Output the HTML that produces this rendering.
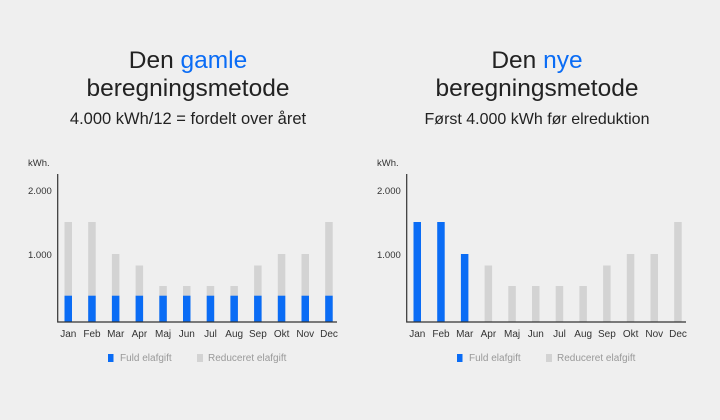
<!DOCTYPE html>
<html><head><meta charset="utf-8"><style>
html,body{margin:0;padding:0;background:#efefef;}
svg{display:block;font-family:"Liberation Sans",sans-serif;}
</style></head><body>
<svg width="720" height="420" viewBox="0 0 720 420">
<rect width="720" height="420" fill="#efefef"/>
<g fill="#222" text-anchor="middle">
<text x="188" y="68" font-size="24.5">Den <tspan fill="#0a6cf5">gamle</tspan></text>
<text x="188" y="96" font-size="24.5">beregningsmetode</text>
<text x="188" y="124" font-size="16.5">4.000 kWh/12 = fordelt over året</text>
<text x="537" y="68" font-size="24.5">Den <tspan fill="#0a6cf5">nye</tspan></text>
<text x="537" y="96" font-size="24.5">beregningsmetode</text>
<text x="537" y="124" font-size="16">Først 4.000 kWh før elreduktion</text>
</g>
<g font-size="9.5" fill="#333">
<text x="28" y="166">kWh.</text>
<text x="28" y="194">2.000</text>
<text x="28" y="258">1.000</text>
<text x="377" y="166">kWh.</text>
<text x="377" y="194">2.000</text>
<text x="377" y="258">1.000</text>
</g>
<g>
<g fill="#d3d3d3">
<rect x="64.5" y="222" width="7.5" height="100"/>
<rect x="88.2" y="222" width="7.5" height="100"/>
<rect x="111.9" y="254" width="7.5" height="68"/>
<rect x="135.6" y="265.5" width="7.5" height="56.5"/>
<rect x="159.3" y="286" width="7.5" height="36"/>
<rect x="183" y="286" width="7.5" height="36"/>
<rect x="206.7" y="286" width="7.5" height="36"/>
<rect x="230.4" y="286" width="7.5" height="36"/>
<rect x="254.1" y="265.5" width="7.5" height="56.5"/>
<rect x="277.8" y="254" width="7.5" height="68"/>
<rect x="301.5" y="254" width="7.5" height="68"/>
<rect x="325.2" y="222" width="7.5" height="100"/>
</g>
<g fill="#0a6cf5">
<rect x="64.5" y="295.7" width="7.5" height="26.3"/>
<rect x="88.2" y="295.7" width="7.5" height="26.3"/>
<rect x="111.9" y="295.7" width="7.5" height="26.3"/>
<rect x="135.6" y="295.7" width="7.5" height="26.3"/>
<rect x="159.3" y="295.7" width="7.5" height="26.3"/>
<rect x="183" y="295.7" width="7.5" height="26.3"/>
<rect x="206.7" y="295.7" width="7.5" height="26.3"/>
<rect x="230.4" y="295.7" width="7.5" height="26.3"/>
<rect x="254.1" y="295.7" width="7.5" height="26.3"/>
<rect x="277.8" y="295.7" width="7.5" height="26.3"/>
<rect x="301.5" y="295.7" width="7.5" height="26.3"/>
<rect x="325.2" y="295.7" width="7.5" height="26.3"/>
</g>
<path d="M57.7 174 V322 H337" stroke="#333" stroke-width="1.2" fill="none"/>
</g>
<g transform="translate(349,0)">
<g fill="#0a6cf5">
<rect x="64.5" y="222" width="7.5" height="100"/>
<rect x="88.2" y="222" width="7.5" height="100"/>
<rect x="111.9" y="254" width="7.5" height="68"/>
</g>
<g fill="#d3d3d3">
<rect x="135.6" y="265.5" width="7.5" height="56.5"/>
<rect x="159.3" y="286" width="7.5" height="36"/>
<rect x="183" y="286" width="7.5" height="36"/>
<rect x="206.7" y="286" width="7.5" height="36"/>
<rect x="230.4" y="286" width="7.5" height="36"/>
<rect x="254.1" y="265.5" width="7.5" height="56.5"/>
<rect x="277.8" y="254" width="7.5" height="68"/>
<rect x="301.5" y="254" width="7.5" height="68"/>
<rect x="325.2" y="222" width="7.5" height="100"/>
</g>
<path d="M57.7 174 V322 H337" stroke="#333" stroke-width="1.2" fill="none"/>
</g>
<g font-size="10" fill="#333" text-anchor="middle">
<g>
<text x="68.3" y="337">Jan</text><text x="92" y="337">Feb</text><text x="115.7" y="337">Mar</text><text x="139.4" y="337">Apr</text><text x="163.1" y="337">Maj</text><text x="186.8" y="337">Jun</text><text x="210.5" y="337">Jul</text><text x="234.2" y="337">Aug</text><text x="257.9" y="337">Sep</text><text x="281.6" y="337">Okt</text><text x="305.3" y="337">Nov</text><text x="329" y="337">Dec</text>
</g>
<g transform="translate(349,0)">
<text x="68.3" y="337">Jan</text><text x="92" y="337">Feb</text><text x="115.7" y="337">Mar</text><text x="139.4" y="337">Apr</text><text x="163.1" y="337">Maj</text><text x="186.8" y="337">Jun</text><text x="210.5" y="337">Jul</text><text x="234.2" y="337">Aug</text><text x="257.9" y="337">Sep</text><text x="281.6" y="337">Okt</text><text x="305.3" y="337">Nov</text><text x="329" y="337">Dec</text>
</g>
</g>
<g font-size="10" fill="#999">
<rect x="108" y="354" width="5.5" height="8" fill="#0a6cf5"/>
<text x="120" y="361">Fuld elafgift</text>
<rect x="197" y="354" width="6" height="8" fill="#d3d3d3"/>
<text x="208" y="361">Reduceret elafgift</text>
<g transform="translate(349,0)">
<rect x="108" y="354" width="5.5" height="8" fill="#0a6cf5"/>
<text x="120" y="361">Fuld elafgift</text>
<rect x="197" y="354" width="6" height="8" fill="#d3d3d3"/>
<text x="208" y="361">Reduceret elafgift</text>
</g>
</g>
</svg>
</body></html>
